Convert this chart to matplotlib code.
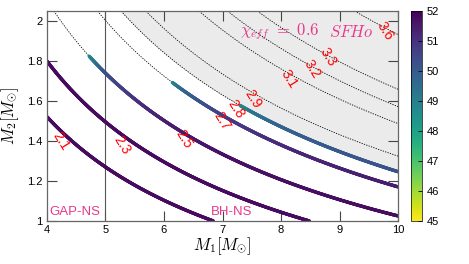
import numpy as np
import matplotlib
matplotlib.use("Agg")
import matplotlib.pyplot as plt
from matplotlib.collections import LineCollection
from matplotlib.colors import Normalize

plt.rcParams['font.family'] = ['Liberation Sans', 'DejaVu Sans']
plt.rcParams['mathtext.fontset'] = 'cm'

# chirp mass levels drawn as dotted contours
levels = [2.1, 2.3, 2.5, 2.7, 2.8, 2.9, 3.1, 3.2, 3.3, 3.6]
# where each contour label sits (M1, M2)
label_x = [4.24, 5.28, 6.33, 6.98, 7.22, 7.52, 8.13, 8.52, 8.80, 9.78]
label_y = [1.40, 1.38, 1.41, 1.50, 1.56, 1.61, 1.71, 1.76, 1.82, 1.95]

# thick coloured tracks: chirp mass level, starting M1, colour value nodes along M1
track_levels = [2.1, 2.3, 2.5, 2.7, 2.8]
track_start = [4.0, 4.0, 4.72, 6.14, 7.30]
track_m1 = [
    [4.0, 10.0],
    [4.0, 10.0],
    [4.72, 4.85, 5.0, 5.5, 6.0, 7.0, 10.0],
    [6.14, 6.3, 6.6, 7.0, 8.0, 10.0],
    [7.30, 7.5, 8.0, 9.0, 10.0],
]
track_val = [
    [51.8, 51.8],
    [51.8, 51.8],
    [48.6, 49.5, 50.3, 51.0, 51.4, 51.7, 51.8],
    [48.7, 49.6, 50.2, 50.7, 51.2, 51.5],
    [48.7, 49.3, 49.8, 50.1, 50.3],
]

pink = '#e8388a'

fig = plt.figure(figsize=(4.69, 2.64), dpi=100)
ax = fig.add_axes([0.100, 0.163, 0.749, 0.795])
cax = fig.add_axes([0.876, 0.163, 0.0235, 0.795])

m1 = np.linspace(4, 10, 600)
m2 = np.linspace(1, 2.05, 300)
M1, M2 = np.meshgrid(m1, m2)
Mc = (M1 * M2) ** 0.6 / (M1 + M2) ** 0.2

ax.contourf(M1, M2, Mc, levels=[2.8, 10], colors=['#ebebeb'])
cs = ax.contour(M1, M2, Mc, levels=levels, colors='k', linewidths=0.6,
                linestyles=[(0, (1.5, 1.5))])
ax.axvline(5, color='#555555', lw=0.8)

norm = Normalize(45, 52)
cmap = plt.get_cmap('viridis_r')
for lev, start, xs, vs in zip(track_levels, track_start, track_m1, track_val):
    i = levels.index(lev)
    pts = np.concatenate(cs.allsegs[i])
    pts = pts[np.argsort(pts[:, 0])]
    pts = pts[pts[:, 0] >= start]
    segs = np.stack([pts[:-1], pts[1:]], axis=1)
    c = np.interp(0.5 * (pts[:-1, 0] + pts[1:, 0]), xs, vs)
    lc = LineCollection(segs, cmap=cmap, norm=norm, linewidths=2.4, capstyle='round')
    lc.set_array(c)
    ax.add_collection(lc)

for lev, lx, ly in zip(levels, label_x, label_y):
    ax.text(lx, ly, '%.1f' % lev, color='red', fontsize=10, rotation=-58,
            ha='center', va='center')

ax.text(7.30, 1.945, r'$\chi_{eff}\ =\ 0.6$', color=pink, fontsize=12, va='center')
ax.text(8.82, 1.945, r'$SFHo$', color=pink, fontsize=12, va='center')
ax.text(4.05, 1.015, 'GAP-NS', color=pink, fontsize=9.5, va='bottom')
ax.text(6.80, 1.015, 'BH-NS', color=pink, fontsize=9.5, va='bottom')

ax.set_xlim(4, 10)
ax.set_ylim(1, 2.05)
ax.set_xticks(range(4, 11))
ax.set_yticks([1, 1.2, 1.4, 1.6, 1.8, 2])
ax.set_yticklabels(['1', '1.2', '1.4', '1.6', '1.8', '2'])
ax.tick_params(direction='in', length=7, width=0.8, color='#444444',
               top=True, right=True, labelsize=8, pad=3)
for s in ax.spines.values():
    s.set_color('#666666')
    s.set_linewidth(0.9)
ax.set_xlabel(r'$M_1[M_{\odot}]$', fontsize=12, labelpad=0)
ax.set_ylabel(r'$M_2[M_{\odot}]$', fontsize=12)
ax.yaxis.set_label_coords(-0.075, 0.5)

sm = plt.cm.ScalarMappable(norm=norm, cmap=cmap)
cb = fig.colorbar(sm, cax=cax, ticks=range(45, 53))
cb.ax.tick_params(direction='in', length=3, labelsize=8, width=0.6)
cb.outline.set_linewidth(0.5)

fig.savefig('out.png', dpi=100)
